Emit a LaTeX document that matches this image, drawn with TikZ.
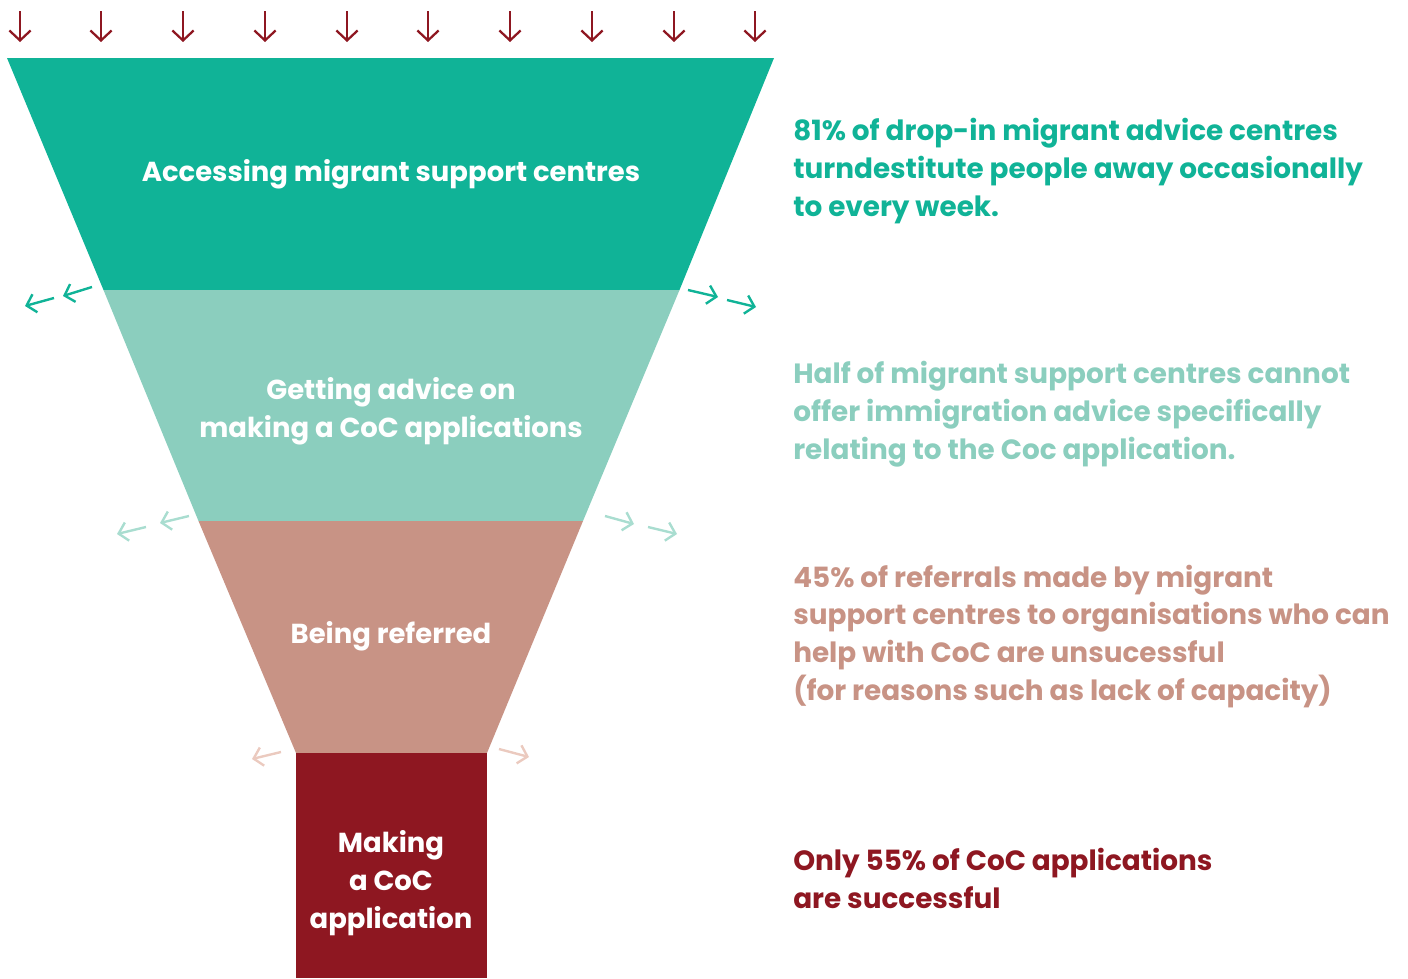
\documentclass[tikz,border=0pt]{standalone}
\usepackage{fontspec}
\setmainfont{Poppins}
\usetikzlibrary{arrows.meta}
\definecolor{cA}{HTML}{10B397}
\definecolor{cB}{HTML}{8BCEBE}
\definecolor{cC}{HTML}{C89385}
\definecolor{cD}{HTML}{8E1721}
\definecolor{aB}{HTML}{A9DDD0}
\definecolor{aC}{HTML}{EBCABF}
\begin{document}
\begin{tikzpicture}[x=0.75pt,y=-0.75pt,
 flabel/.style={text=white,font=\fontsize{20.6}{28.2}\selectfont\bfseries,align=center,anchor=base,inner sep=0pt},
 stat/.style={font=\fontsize{20.9}{28.2}\selectfont\bfseries,align=left,anchor=base west,inner sep=0pt},
 downarrow/.style={draw=cD,line width=1.7pt,-{Straight Barb[length=7.5pt,width=16pt]}},
 sidearrow/.style={line width=1.8pt,-{Straight Barb[length=6.5pt,width=14pt]}}]
\useasboundingbox (0,0) rectangle (1408,978);
% funnel
\fill[cA] (7,58) -- (774,58) -- (679.5,290) -- (103.5,290) -- cycle;
\fill[cB] (103.5,290) -- (679.5,290) -- (583,521) -- (198.5,521) -- cycle;
\fill[cC] (198.5,521) -- (583,521) -- (487,753) -- (296,753) -- cycle;
\fill[cD] (296,753) rectangle (487,978);
% top arrows
\foreach \x in {20,101,183,265,347,428,510,592,674,755}
  \draw[downarrow] (\x,11) -- (\x,42);
% side arrows
\draw[sidearrow,draw=cA] (92,287) -- (63,296);
\draw[sidearrow,draw=cA] (54,298) -- (25,306);
\draw[sidearrow,draw=cA] (688,290) -- (718,297);
\draw[sidearrow,draw=cA] (727,300) -- (756,307);
\draw[sidearrow,draw=aB] (189,516) -- (160,523);
\draw[sidearrow,draw=aB] (146,527) -- (117,534);
\draw[sidearrow,draw=aB] (605,516) -- (634,524);
\draw[sidearrow,draw=aB] (648,527) -- (677,534);
\draw[sidearrow,draw=aC] (281,752) -- (252,759);
\draw[sidearrow,draw=aC] (499,749) -- (529,757);
% funnel labels
\node[flabel] (l1) at (391,181) {Accessing migrant support centres};
\node[flabel] (l2) at (391,437) {Getting advice on\\making a CoC applications};
\node[flabel] (l3) at (391,643) {Being referred};
\node[flabel] (l4) at (391,928) {Making\\a CoC\\application};
% statements
\node[stat,text=cA] (s1) at (793,216) {81\% of drop-in migrant advice centres\\turndestitute people away occasionally\\to every week.};
\node[stat,text=cB] (s2) at (793,459) {Half of migrant support centres cannot\\offer immigration advice specifically\\relating to the Coc application.};
\node[stat,text=cC] (s3) at (793,700) {45\% of referrals made by migrant\\support centres to organisations who can\\help with CoC are unsucessful\\(for reasons such as lack of capacity)};
\node[stat,text=cD] (s4) at (793,908) {Only 55\% of CoC applications\\are successful};
\end{tikzpicture}
\end{document}
